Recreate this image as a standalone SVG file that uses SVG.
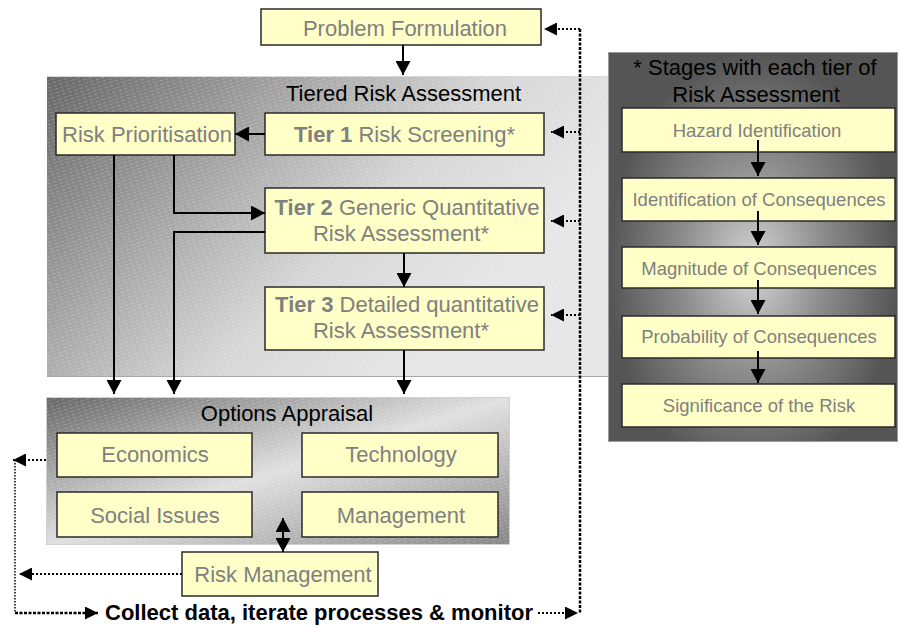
<svg xmlns="http://www.w3.org/2000/svg" width="899" height="627" viewBox="0 0 899 627">
  <style>
    .box { fill: #ffffc8; stroke: #2a2a2a; stroke-width: 1.5; }
    .t { font-family: "Liberation Sans", Arial, sans-serif; font-size: 22px; fill: #808080; text-anchor: middle; }
    .ts { font-family: "Liberation Sans", Arial, sans-serif; font-size: 18.5px; fill: #808080; text-anchor: middle; }
    .h { font-family: "Liberation Sans", Arial, sans-serif; font-size: 22px; fill: #000; text-anchor: middle; }
    .b { font-weight: bold; }
    .ln { fill: none; stroke: #000; stroke-width: 2; }
    .dotv { fill: none; stroke: #000; stroke-width: 2.5; stroke-dasharray: 3 1.5; }
    .doth { fill: none; stroke: #000; stroke-width: 2; stroke-dasharray: 2 2; }
    .dotl { fill: none; stroke: #000; stroke-width: 1.5; stroke-dasharray: 1.5 1.5; }
  </style>
  <defs>
    <marker id="arr" viewBox="0 0 14 15" refX="14" refY="7.5" markerWidth="14" markerHeight="15" markerUnits="userSpaceOnUse" orient="auto-start-reverse">
      <path d="M0,0 L14,7.5 L0,15 z" fill="#000"/>
    </marker>
    <marker id="arrs" viewBox="0 0 13 13" refX="13" refY="6.5" markerWidth="13" markerHeight="13" markerUnits="userSpaceOnUse" orient="auto">
      <path d="M0,0 L13,6.5 L0,13 z" fill="#000"/>
    </marker>
    <linearGradient id="gTier" gradientUnits="userSpaceOnUse" x1="47" y1="76" x2="380" y2="400">
      <stop offset="0" stop-color="#666"/>
      <stop offset="0.7" stop-color="#d6d6d6"/>
      <stop offset="1" stop-color="#e6e6e6"/>
    </linearGradient>
    <linearGradient id="gOpt" x1="0" y1="0" x2="1" y2="1">
      <stop offset="0" stop-color="#666"/>
      <stop offset="0.5" stop-color="#e0e0e0"/>
      <stop offset="1" stop-color="#858585"/>
    </linearGradient>
    <radialGradient id="gStage" cx="0.5" cy="0.55" r="0.5" fx="0.5" fy="0.55" gradientTransform="translate(0.5 0.55) scale(1 1.1) translate(-0.5 -0.55)">
      <stop offset="0" stop-color="#d4d4d4"/>
      <stop offset="0.5" stop-color="#8c8c8c"/>
      <stop offset="1" stop-color="#555"/>
    </radialGradient>
    <pattern id="hatch" patternUnits="userSpaceOnUse" width="6" height="3.5" patternTransform="rotate(-18)">
      <line x1="0" y1="0.5" x2="4" y2="0.5" stroke="#fff" stroke-opacity="0.22" stroke-width="1"/>
    </pattern>
  </defs>

  <!-- background panels -->
  <g id="tiered-panel">
    <rect x="47" y="76" width="561" height="301" fill="url(#gTier)"/>
    <rect x="47" y="76" width="561" height="301" fill="url(#hatch)"/>
    <line x1="47" y1="76.5" x2="608" y2="76.5" stroke="#d8d8d8" stroke-width="1"/>
    <line x1="47" y1="376.5" x2="608" y2="376.5" stroke="#a8a8a8" stroke-width="1"/>
    <text class="h" x="403.5" y="101">Tiered Risk Assessment</text>
  </g>
  <g id="options-panel">
    <rect x="46" y="397" width="464" height="148" fill="url(#gOpt)"/>
    <rect x="46" y="397" width="464" height="148" fill="url(#hatch)"/>
    <rect x="46.5" y="397.5" width="463" height="147" fill="none" stroke="#d0d0d0" stroke-width="1"/>
    <text class="h" x="287" y="421">Options Appraisal</text>
  </g>
  <g id="stages-panel">
    <rect x="608" y="52" width="290" height="390" fill="url(#gStage)"/>
    <rect x="608.5" y="52.5" width="289" height="389" fill="none" stroke="#9a9a9a" stroke-width="1"/>
    <text class="h" x="755" y="75">* Stages with each tier of</text>
    <text class="h" x="756" y="102">Risk Assessment</text>
  </g>

  <!-- nodes -->
  <g id="problem-formulation">
    <rect class="box" x="261" y="9" width="280" height="36"/>
    <text class="t" x="405" y="36">Problem Formulation</text>
  </g>
  <g id="risk-prioritisation">
    <rect class="box" x="56" y="113" width="179" height="42"/>
    <text class="t" x="147" y="142">Risk Prioritisation</text>
  </g>
  <g id="tier1">
    <rect class="box" x="265" y="113" width="279" height="42"/>
    <text class="t" x="404.5" y="142"><tspan class="b">Tier 1</tspan> Risk Screening*</text>
  </g>
  <g id="tier2">
    <rect class="box" x="265" y="188" width="279" height="65"/>
    <text class="t" x="407" y="215"><tspan class="b">Tier 2</tspan> Generic Quantitative</text>
    <text class="t" x="401" y="241">Risk Assessment*</text>
  </g>
  <g id="tier3">
    <rect class="box" x="265" y="287" width="279" height="63"/>
    <text class="t" x="407" y="312"><tspan class="b">Tier 3</tspan> Detailed quantitative</text>
    <text class="t" x="401" y="338">Risk Assessment*</text>
  </g>
  <g id="economics">
    <rect class="box" x="57" y="433" width="195" height="44"/>
    <text class="t" x="155" y="462">Economics</text>
  </g>
  <g id="technology">
    <rect class="box" x="302" y="433" width="196" height="44"/>
    <text class="t" x="401" y="462">Technology</text>
  </g>
  <g id="social-issues">
    <rect class="box" x="57" y="492" width="195" height="45"/>
    <text class="t" x="155" y="523">Social Issues</text>
  </g>
  <g id="management">
    <rect class="box" x="302" y="492" width="196" height="45"/>
    <text class="t" x="401" y="523">Management</text>
  </g>
  <g id="risk-management">
    <rect class="box" x="182" y="552" width="196" height="44"/>
    <text class="t" x="283" y="582">Risk Management</text>
  </g>
  <g id="hazard-identification">
    <rect class="box" x="622" y="108" width="273" height="44"/>
    <text class="ts" x="757" y="137">Hazard Identification</text>
  </g>
  <g id="identification-of-consequences">
    <rect class="box" x="622" y="178" width="273" height="43"/>
    <text class="ts" x="759" y="206">Identification of Consequences</text>
  </g>
  <g id="magnitude-of-consequences">
    <rect class="box" x="622" y="247" width="273" height="41"/>
    <text class="ts" x="759" y="275">Magnitude of Consequences</text>
  </g>
  <g id="probability-of-consequences">
    <rect class="box" x="622" y="316" width="273" height="42"/>
    <text class="ts" x="759" y="343">Probability of Consequences</text>
  </g>
  <g id="significance-of-the-risk">
    <rect class="box" x="622" y="384" width="273" height="43"/>
    <text class="ts" x="759" y="412">Significance of the Risk</text>
  </g>

  <text id="monitor-label" class="h b" x="319" y="620">Collect data, iterate processes &amp; monitor</text>

  <!-- connectors -->
  <g id="connectors">
    <path class="ln" d="M403,45 V75" marker-end="url(#arr)"/>
    <path class="ln" d="M265,134 H235" marker-end="url(#arr)"/>
    <path class="ln" d="M114,155 V394" marker-end="url(#arr)"/>
    <path class="ln" d="M174,155 V213 H265" marker-end="url(#arr)"/>
    <path class="ln" d="M265,232 H174 V394" marker-end="url(#arr)"/>
    <path class="ln" d="M404,253 V287" marker-end="url(#arr)"/>
    <path class="ln" d="M404,350 V394" marker-end="url(#arr)"/>
    <path class="ln" d="M283,518 V552" marker-start="url(#arr)" marker-end="url(#arr)"/>

    <path class="ln" d="M758,140 V176" marker-end="url(#arr)"/>
    <path class="ln" d="M758,211 V245" marker-end="url(#arr)"/>
    <path class="ln" d="M758,280 V314" marker-end="url(#arr)"/>
    <path class="ln" d="M758,351 V383" marker-end="url(#arr)"/>

    <!-- feedback loop -->
    <path class="dotv" d="M580,29 V613"/>
    <path class="doth" d="M580,29 H544" marker-end="url(#arrs)"/>
    <path class="doth" d="M580,132 H551" marker-end="url(#arrs)"/>
    <path class="doth" d="M580,221 H551" marker-end="url(#arrs)"/>
    <path class="doth" d="M580,315 H551" marker-end="url(#arrs)"/>
    <path class="doth" d="M538,613 H578" marker-end="url(#arrs)"/>
    <path class="doth" d="M46,460 H13" marker-end="url(#arrs)"/>
    <path class="doth" d="M182,574 H19" marker-end="url(#arrs)"/>
    <path class="dotl" d="M15,460 V613"/>
    <path class="dotv" d="M15,613 H98" marker-end="url(#arrs)"/>
  </g>
</svg>
